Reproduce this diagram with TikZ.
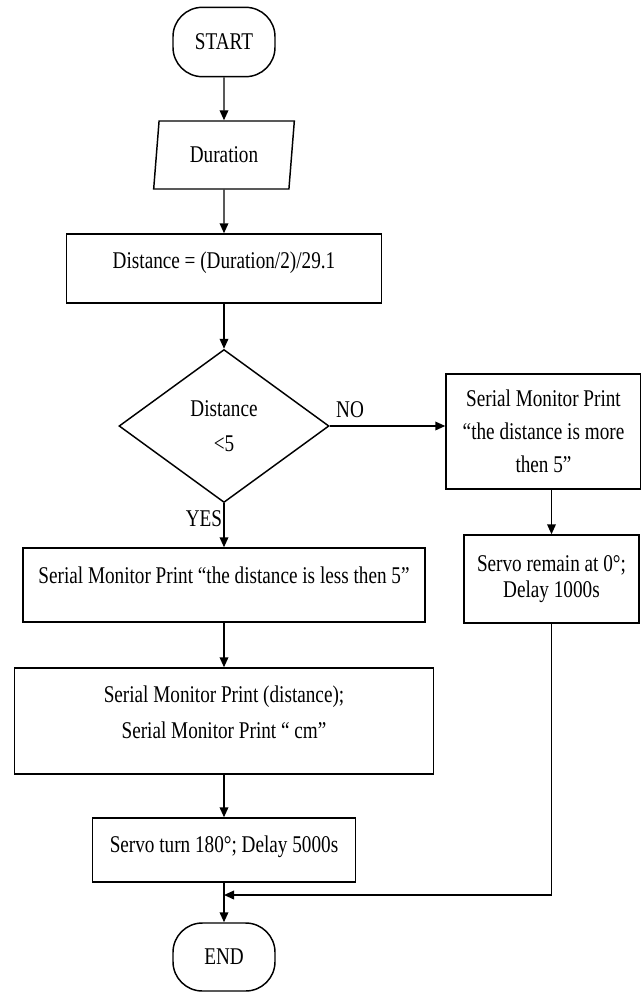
\documentclass[tikz,border=0pt]{standalone}
\usepackage{fontspec}
\setmainfont{Liberation Serif}[FakeStretch=0.80]
\usepackage{tikz}
\usetikzlibrary{shapes.geometric, arrows.meta, positioning}

\tikzset{
  flowline/.style={line width=1.1pt, -{Triangle[length=7.5pt, width=6.5pt]}},
  termbox/.style={draw, line width=1.1pt, rounded corners=22pt, inner sep=0pt,
    minimum width=76.5pt, minimum height=52pt},
  procbox/.style={draw, line width=1.1pt, rectangle, inner sep=0pt, align=center},
  iobox/.style={draw, line width=1.1pt, trapezium, trapezium left angle=80,
    trapezium right angle=100, trapezium stretches=true, inner sep=0pt,
    minimum width=105.75pt, minimum height=51pt},
  decbox/.style={draw, line width=1.1pt, diamond, inner sep=0pt, align=center,
    minimum width=157.5pt, minimum height=114.75pt},
  lbl/.style={inner sep=0pt}
}

\begin{document}
\begin{tikzpicture}[x=0.75pt, y=-0.75pt, font=\fontsize{18}{21.5}\selectfont]
  \useasboundingbox (0,0) rectangle (640,992);

  % main column
  \node[termbox] (start) at (224,42) {START};
  \node[iobox] (dur) at (224,155) {Duration};
  \node[procbox, minimum width=236.25pt, minimum height=51.75pt, text depth=13pt] (calc) at (224,268.5) {Distance = (Duration/2)/29.1};
  \node[decbox] (dec) at (224,426) {Distance\\[5pt]<5};
  \node[procbox, minimum width=301.5pt, minimum height=55.5pt, text depth=15pt] (less) at (224,585) {Serial Monitor Print “the distance is less then 5”};
  \node[procbox, minimum width=314.25pt, minimum height=79.5pt, text depth=14pt] (prnt) at (224,721) {Serial Monitor Print (distance);\\[5.5pt]Serial Monitor Print “ cm”};
  \node[procbox, minimum width=197.25pt, minimum height=48pt, text depth=9pt] (turn) at (224,850) {Servo turn 180°; Delay 5000s};
  \node[termbox, minimum height=51pt] (end) at (224,957) {END};

  % right column
  \node[procbox, minimum width=146.25pt, minimum height=86.25pt] (more) at (543.5,431.5) {Serial Monitor Print\\[3.25pt]“the distance is more\\[3.25pt]then 5”};
  \node[procbox, minimum width=131.25pt, minimum height=66pt] (servo0) at (551.5,579) {Servo remain at 0°;\\[-2pt]Delay 1000s};

  \node[lbl] (nolab) at (350,410) {NO};
  \node[lbl] (yeslab) at (204,519) {YES};
  \coordinate (join) at (224,895);

  \draw[flowline] (start) -- (dur);
  \draw[flowline] (dur) -- (calc);
  \draw[flowline] (calc) -- (dec.north);
  \draw[flowline] (dec) -- (less);
  \draw[flowline] (dec.east) -- (more.west |- dec.east);
  \draw[flowline] (servo0.north |- more.south) -- (servo0.north);
  \draw[flowline] (less) -- (prnt);
  \draw[flowline] (prnt) -- (turn);
  \draw[flowline] (turn) -- (end);
  \draw[flowline] (servo0.south) |- (join);
\end{tikzpicture}
\end{document}
